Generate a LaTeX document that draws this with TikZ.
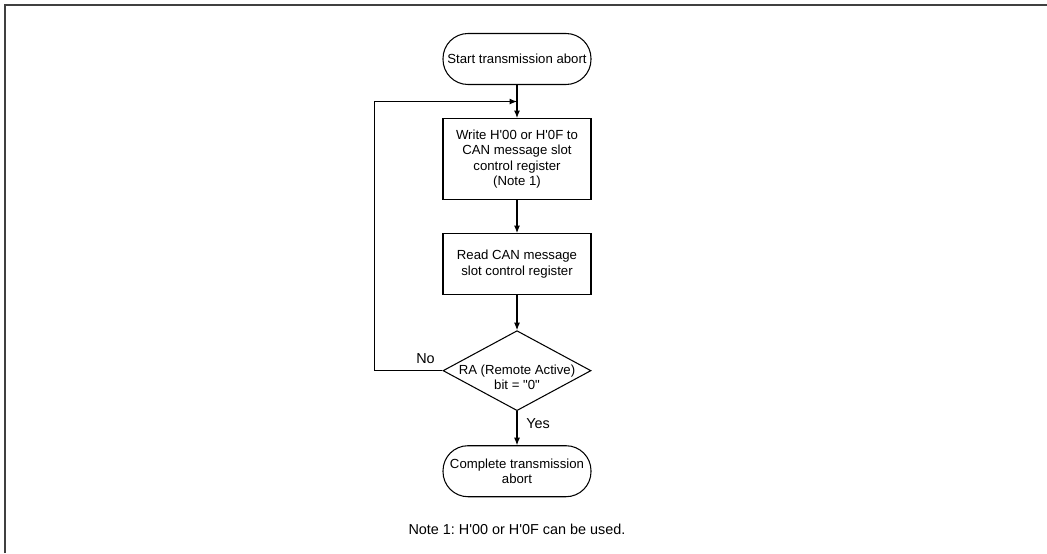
\documentclass[tikz,border=0pt]{standalone}
\usepackage{fontspec}
\setmainfont{Liberation Sans}[Ligatures=TeXOff]
\usetikzlibrary{arrows.meta, positioning, shapes.geometric}

\begin{document}
\frenchspacing
\begin{tikzpicture}[
  font=\fontsize{7.5}{8.7}\selectfont,
  term/.style={draw, rounded corners=0.5cm, minimum width=2.96cm,
               minimum height=1.02cm, inner sep=0pt, align=center, line width=0.6pt},
  proc/.style={draw, minimum width=2.96cm, inner sep=0pt, align=center, line width=0.6pt},
  dec/.style={draw, diamond, minimum width=2.96cm, minimum height=1.6cm,
              inner sep=0pt, line width=0.6pt},
  lbl/.style={font=\fontsize{8.2}{9.8}\selectfont, inner sep=0pt},
  arr/.style={-{Latex[length=1.5mm, width=1.2mm]}, line width=0.6pt},
  node distance=6.6mm
]
  \useasboundingbox (0,0) rectangle (20.94,-11.06);
  % frame (top and left only)
  \draw[black!75, line width=1.1pt] (0.1,-11.06) -- (0.1,-0.1) -- (20.94,-0.1);

  \node[term] (start) at (10.34,-1.18) {Start transmission abort};
  \node[proc, minimum height=1.62cm, below=of start] (write)
    {Write H'00 or H'0F to\\CAN message slot\\control register\\(Note 1)};
  \node[proc, minimum height=1.22cm, below=of write] (read)
    {Read CAN message\\slot control register};
  \node[dec, below=7mm of read] (check) {};
  \node[align=center, inner sep=0pt] (checktext) at ([yshift=-1.3mm]check.center)
    {RA (Remote Active)\\bit = "0"};
  \node[term, below=6.8mm of check] (done) {Complete transmission\\abort};
  \node[lbl, below=5.2mm of done] (note) {Note 1: H'00 or H'0F can be used.};

  \draw[arr] (start) -- (write);
  \draw[arr] (write) -- (read);
  \draw[arr] (read) -- (check);
  \draw[arr] (check) -- (done);

  % retry loop
  \coordinate (join) at ([yshift=-3.3mm]start.south);
  \coordinate (turn) at ([xshift=-13.6mm]check.west);
  \draw[arr] (check.west) -- (turn) |- (join);

  \node[lbl] (no) at ([xshift=-3.4mm, yshift=2.4mm]check.west) {No};
  \node[lbl] (yes) at ([xshift=4.2mm, yshift=-2.4mm]check.south) {Yes};
\end{tikzpicture}
\end{document}
